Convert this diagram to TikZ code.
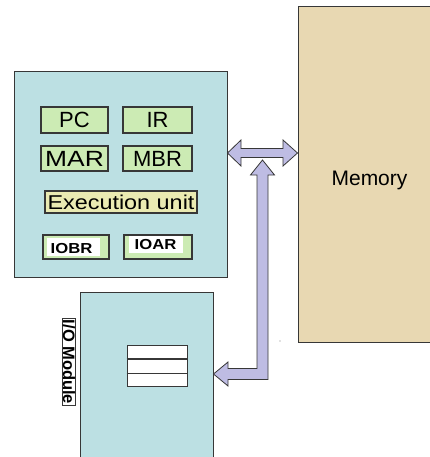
\documentclass[tikz,border=0pt]{standalone}
\usepackage{fontspec}
\setmainfont{Liberation Sans}
\newfontfamily\widefont[FakeStretch=1.17]{Liberation Sans}
\newfontfamily\iofont[FakeStretch=1.15]{Liberation Sans}
\definecolor{edge}{RGB}{55,55,55}
\definecolor{cpuc}{RGB}{188,224,227}
\definecolor{regg}{RGB}{204,235,180}
\definecolor{execc}{RGB}{234,234,178}
\definecolor{memc}{RGB}{232,216,178}
\definecolor{arrc}{RGB}{190,188,227}
\begin{document}
\begin{tikzpicture}[x=1pt,y=-1pt,line join=miter,
  frame/.style={draw=edge,line width=1pt,inner sep=0pt},
  reg/.style={draw=edge,line width=1.4pt,fill=regg,inner sep=0pt,font=\fontsize{22}{22}\selectfont},
  execbox/.style={draw=edge,line width=1.4pt,fill=execc,inner sep=0pt,font=\widefont\fontsize{20}{20}\selectfont},
  iobox/.style={draw=edge,line width=1.4pt,fill=regg,inner sep=0pt},
  iotext/.style={fill=white,inner sep=0pt,font=\iofont\bfseries\fontsize{14.5}{14.5}\selectfont},
  busarrow/.style={draw=edge,line width=0.8pt,fill=arrc}]
\useasboundingbox (0,0) rectangle (430,457);

% main blocks
\node[frame,fill=cpuc,minimum width=213pt,minimum height=205pt] (cpu) at (120.5,174.5) {};
\node[frame,fill=memc,minimum width=136pt,minimum height=335pt] (mem) at (366,174.5) {};
\node[anchor=base,font=\fontsize{21}{21}\selectfont] (memlab) at (369.5,185) {Memory};
\node[frame,fill=cpuc,minimum width=133pt,minimum height=175pt] (io) at (146.5,379.5) {};

% registers
\node[reg,minimum width=67pt,minimum height=26pt] (pc) at (74.5,120) {PC};
\node[reg,minimum width=69pt,minimum height=26pt] (ir) at (157.5,120) {IR};
\node[reg,minimum width=67pt,minimum height=25pt] (mar) at (74.5,158.5) {\scalebox{1.2}[1]{MAR}};
\node[reg,minimum width=69pt,minimum height=25pt] (mbr) at (157.5,158.5) {MBR};
\node[execbox,minimum width=152pt,minimum height=22pt] (exec) at (121,202) {Execution unit};

\node[iobox,minimum width=66pt,minimum height=24pt] (iobr) at (76,247) {};
\node[fill=white,inner sep=0pt,minimum width=53pt,minimum height=18pt] (iobrw) at (73.5,247) {};
\node[iotext] (iobrt) at (71.5,248.5) {IOBR};
\node[iobox,minimum width=68pt,minimum height=24pt] (ioar) at (158,247) {};
\node[fill=white,inner sep=0pt,minimum width=54pt,minimum height=17pt] (ioarw) at (156,244.5) {};
\node[iotext] (ioart) at (155.5,245) {IOAR};

% I/O module label and buffer
\node[draw=edge,line width=0.8pt,fill=white,rotate=-90,inner xsep=1pt,inner ysep=0.5pt,
  font=\bfseries\fontsize{16.5}{16.5}\selectfont] (iolab) at (69,362) {I/O Module};
\node[draw=edge,line width=1pt,fill=white,minimum width=60pt,minimum height=41pt,inner sep=0pt] (buf) at (157,365.5) {};
\draw[edge,line width=1.8pt] (buf.west |- 0,359) -- (buf.east |- 0,359);
\draw[edge,line width=1pt] (buf.west |- 0,373) -- (buf.east |- 0,373);

% bus arrows
\coordinate (tl) at (cpu.east |- 0,153);
\coordinate (tr) at (mem.west |- 0,153);
\draw[busarrow] (tl) -- (241,140) -- (241,148.5) -- (283,148.5) -- (283,140) -- (tr)
  -- (283,166) -- (283,157.5) -- (241,157.5) -- (241,166) -- cycle;
\coordinate (bt) at (262.5,160);
\coordinate (bl) at (io.east |- 0,374);
\draw[busarrow] (bt) -- (274.5,175) -- (268,175) -- (268,379.5) -- (228,379.5) -- (228,386)
  -- (bl) -- (228,362) -- (228,368.5) -- (257,368.5) -- (257,175) -- (250.5,175) -- cycle;

\fill[gray] (280,341) circle (0.6pt);
\end{tikzpicture}
\end{document}
